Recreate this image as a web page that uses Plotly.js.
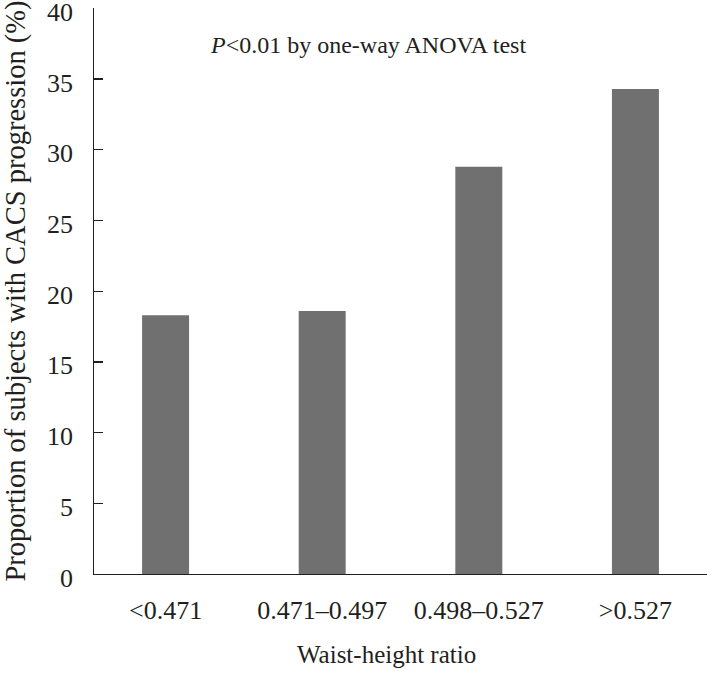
<!DOCTYPE html>
<html>
<head>
<meta charset="utf-8">
<script src="https://cdn.plot.ly/plotly-3.0.1.min.js"></script>
<style>html,body{margin:0;padding:0;background:#fff;}#chart{width:707px;height:673px;}</style>
</head>
<body>
<div id="chart"></div>
<script>
const categories = ["<0.471", "0.471\u20130.497", "0.498\u20130.527", ">0.527"];
const proportions = [18.3, 18.6, 28.8, 34.3];
const yTicks = [0, 5, 10, 15, 20, 25, 30, 35, 40];

const font = "'Liberation Serif', 'DejaVu Serif', serif";
const ink = "#231f20";

const trace = {
  type: "bar",
  x: categories,
  y: proportions,
  width: 0.3,
  marker: {color: "#707070", line: {width: 0}},
  hoverinfo: "none"
};

const yTickLabels = yTicks.map(v => ({
  text: String(v),
  xref: "paper", yref: "y",
  x: 0, y: v, xanchor: "right", yanchor: "middle",
  xshift: -19, yshift: -4,
  showarrow: false,
  font: {family: font, size: 26, color: ink}
}));

const layout = {
  width: 707, height: 673,
  margin: {l: 94, r: 0, t: 8, b: 99},
  paper_bgcolor: "#fff", plot_bgcolor: "#fff",
  showlegend: false,
  font: {family: font, size: 24, color: ink},
  xaxis: {
    type: "category",
    range: [-0.457, 3.457],
    showline: true, linecolor: ink, linewidth: 1.3,
    ticks: "", showgrid: false, zeroline: false,
    tickfont: {family: font, size: 26, color: ink},
    ticklabelstandoff: 12
  },
  yaxis: {
    range: [0, 40.03],
    tickvals: yTicks,
    showticklabels: false,
    showline: true, linecolor: ink, linewidth: 1.3,
    ticks: "inside", ticklen: 9, tickwidth: 1.3, tickcolor: ink,
    showgrid: false, zeroline: false,
    title: {text: "Proportion of subjects with CACS progression (%)", font: {family: font, size: 28.5, color: ink}, standoff: 60}
  },
  annotations: yTickLabels.concat([{
    text: "<i>P</i><0.01 by one-way ANOVA test",
    xref: "paper", yref: "paper",
    x: 0.447, y: 0.935, xanchor: "center", yanchor: "middle",
    showarrow: false,
    font: {family: font, size: 24, color: ink}
  }, {
    text: "Waist-height ratio",
    xref: "paper", yref: "paper",
    x: 0.477, y: -0.143, xanchor: "center", yanchor: "middle",
    showarrow: false,
    font: {family: font, size: 25, color: ink}
  }])
};

Plotly.newPlot("chart", [trace], layout, {displayModeBar: false, staticPlot: true});
</script>
</body>
</html>
